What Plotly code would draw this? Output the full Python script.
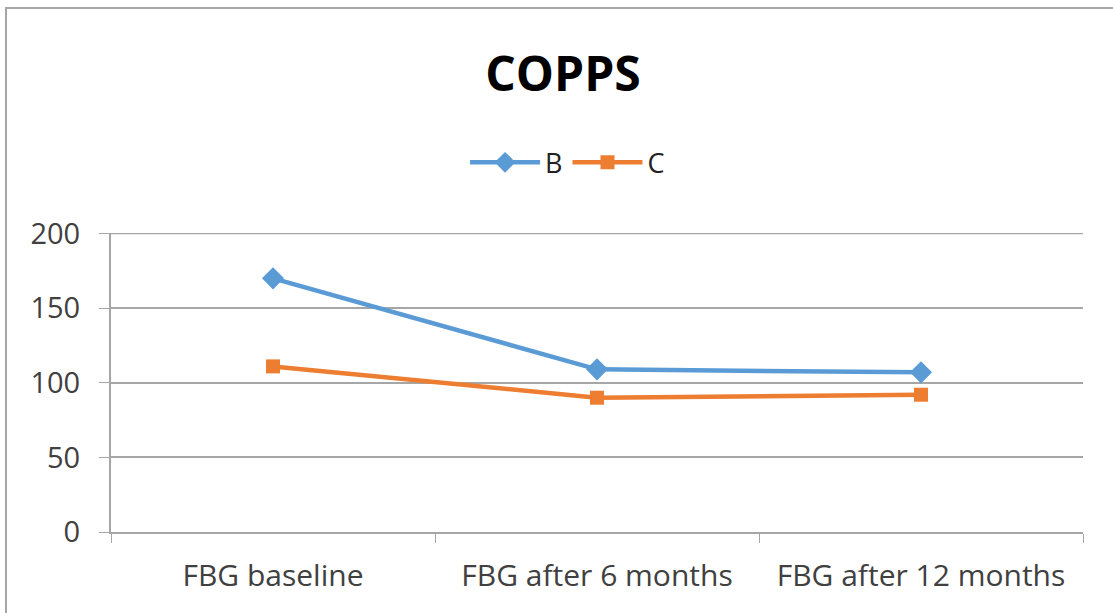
import plotly.graph_objects as go

categories = ["FBG baseline", "FBG after 6 months", "FBG after 12 months"]
series_b = [170, 109, 107]
series_c = [111, 90, 92]
y_ticks = [0, 50, 100, 150, 200]

BLUE = "#5B9BD5"
ORANGE = "#ED7D31"
FONT = "Open Sans"
GRID = "#a6a6a6"

fig = go.Figure()
fig.add_trace(go.Scatter(
    x=categories, y=series_b, name="B", mode="lines+markers",
    line=dict(color=BLUE, width=4.5),
    marker=dict(symbol="diamond", size=17, color=BLUE),
))
fig.add_trace(go.Scatter(
    x=categories, y=series_c, name="C", mode="lines+markers",
    line=dict(color=ORANGE, width=4.5),
    marker=dict(symbol="square", size=14, color=ORANGE),
))

fig.update_layout(
    width=1113, height=613,
    margin=dict(l=111, r=30, t=233, b=81),
    paper_bgcolor="white", plot_bgcolor="white",
    font=dict(family=FONT, size=29, color="#404040"),
    title=dict(text="<b>COPPS</b>", x=563 / 1113, xref="container", xanchor="center",
               y=1 - 74 / 613, yref="container", yanchor="middle",
               font=dict(family=FONT, size=48, color="black")),
    showlegend=True,
    legend=dict(orientation="h", x=0.4697, xanchor="center", xref="paper",
                y=1.235, yanchor="middle", font=dict(size=27, color="#222222"),
                itemwidth=70, bgcolor="rgba(0,0,0,0)"),
    xaxis=dict(
        type="category", tickson="boundaries", ticks="outside", ticklen=9,
        tickcolor=GRID, showline=True, linecolor=GRID, linewidth=2,
        showgrid=False, tickfont=dict(size=30, color="#404040"),
        range=[-0.5, 2.5], ticklabelstandoff=16,
    ),
    yaxis=dict(
        range=[0, 200.4], tickvals=y_ticks, ticks="outside", ticklen=10,
        tickcolor=GRID, showline=True, linecolor=GRID, linewidth=2,
        showgrid=True, gridcolor=GRID, gridwidth=1.5, zeroline=False,
        tickfont=dict(size=29, color="#404040"), ticklabelstandoff=13,
    ),
)

# top gridline at 200 (plotly drops the gridline sitting on the range edge)
fig.add_shape(type="line", xref="paper", yref="y", x0=0, x1=1, y0=y_ticks[-1], y1=y_ticks[-1],
              line=dict(color=GRID, width=1.5), layer="below")

fig.add_shape(type="rect", xref="paper", yref="paper",
              x0=(6 - 111) / 972, x1=(1125 - 111) / 972,
              y0=(532 - 625) / 299, y1=(532 - 8) / 299,
              line=dict(color="#a6a6a6", width=2), fillcolor="rgba(0,0,0,0)", layer="below")

fig.write_html("out.html")
